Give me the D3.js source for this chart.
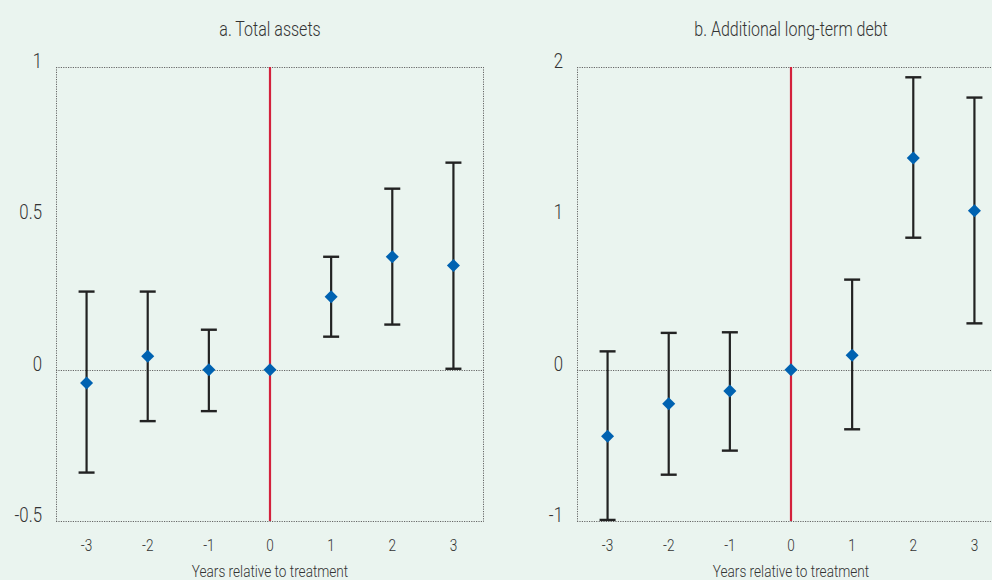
<!DOCTYPE html>
<html><head><meta charset="utf-8">
<script src="https://cdn.jsdelivr.net/npm/d3@7"></script>
<style>
html,body{margin:0;padding:0;background:#EAF4EF;}
svg{display:block;}
text{font-family:"Roboto","Open Sans",sans-serif;font-weight:300;fill:#333;}
</style></head>
<body>
<svg id="chart" width="992" height="580"></svg>
<script>
// ---- data ----
const years = [-3, -2, -1, 0, 1, 2, 3];
const xTickLabels = ["-3", "-2", "-1", "0", "1", "2", "3"];

const assetsEst   = [-0.044, 0.044, 0.000, 0.000, 0.241, 0.373, 0.344];
const assetsLow   = [-0.340, -0.170, -0.137, null, 0.109, 0.149, 0.003];
const assetsHigh  = [0.258, 0.258, 0.132, null, 0.373, 0.598, 0.684];
const assetsTicks = [-0.5, 0, 0.5, 1];
const assetsTickLabels = ["-0.5", "0", "0.5", "1"];

const debtEst   = [-0.440, -0.225, -0.141, 0.000, 0.095, 1.399, 1.050];
const debtLow   = [-0.993, -0.694, -0.535, null, -0.394, 0.872, 0.306];
const debtHigh  = [0.121, 0.243, 0.247, null, 0.595, 1.932, 1.798];
const debtTicks = [-1, 0, 1, 2];
const debtTickLabels = ["-1", "0", "1", "2"];

const panelTitles = ["a. Total assets", "b. Additional long-term debt"];
const xAxisTitle = "Years relative to treatment";

// ---- drawing ----
const svg = d3.select("#chart");
const plotTop = 67, plotBottom = 521;
const squeeze = 0.8; // condensed look

function label(g, x, y, txt, size, anchor) {
  return g.append("text")
    .attr("transform", `translate(${x},${y}) scale(${squeeze},1)`)
    .attr("text-anchor", anchor).attr("font-size", size).text(txt);
}

function panel(cfg) {
  const g = svg.append("g");
  const x = d3.scaleLinear().domain([-3.5, 3.5]).range([cfg.left, cfg.left + 428]);
  const y = d3.scaleLinear().domain(cfg.domain).range([plotBottom, plotTop]);
  const right = cfg.left + 428;

  const styleDot = sel => sel.attr("stroke", "#666").attr("stroke-width", 1)
      .attr("stroke-dasharray", "1.2,1.2").attr("fill", "none");

  // horizontal dotted lines: top, bottom, zero
  [cfg.domain[1], cfg.domain[0], 0].forEach(v => {
    g.append("line").attr("x1", cfg.left).attr("x2", right)
      .attr("y1", Math.round(y(v)) + 0.5).attr("y2", Math.round(y(v)) + 0.5)
      .call(styleDot);
  });
  // vertical dotted frame lines
  [cfg.left + 0.5, right - 0.5].forEach(xx => {
    g.append("line").attr("x1", xx).attr("x2", xx)
      .attr("y1", plotTop).attr("y2", plotBottom).call(styleDot);
  });

  // y tick labels
  cfg.ticks.forEach((d, i) => label(g, cfg.left - 14, y(d) + 1, cfg.tickLabels[i], 21, "end"));

  // x tick labels
  years.forEach((d, i) => label(g, x(d), 551, xTickLabels[i], 17, "middle"));

  // axis title
  label(g, x(0), 577, xAxisTitle, 17, "middle");

  // panel title
  label(g, x(0), 36, cfg.title, 20, "middle");

  // red reference line
  g.append("line").attr("x1", x(0)).attr("x2", x(0)).attr("y1", plotTop).attr("y2", plotBottom)
    .attr("stroke", "#D3213C").attr("stroke-width", 2.2);

  // error bars
  const eb = years.map((yr, i) => ({yr, lo: cfg.low[i], hi: cfg.high[i], est: cfg.est[i]}));
  const withCI = eb.filter(d => d.lo !== null);
  g.selectAll(".ebv").data(withCI).join("line")
    .attr("x1", d => x(d.yr)).attr("x2", d => x(d.yr))
    .attr("y1", d => y(d.lo)).attr("y2", d => y(d.hi))
    .attr("stroke", "#222").attr("stroke-width", 2.2);
  ["lo", "hi"].forEach(k => {
    g.selectAll(".cap" + k).data(withCI).join("line")
      .attr("x1", d => x(d.yr) - 8).attr("x2", d => x(d.yr) + 8)
      .attr("y1", d => y(d[k])).attr("y2", d => y(d[k]))
      .attr("stroke", "#222").attr("stroke-width", 2.4);
  });

  // diamonds
  const sym = d3.symbol().type(d3.symbolSquare).size(85);
  g.selectAll(".pt").data(eb).join("path")
    .attr("d", sym)
    .attr("transform", d => `translate(${x(d.yr)},${y(d.est)}) rotate(45)`)
    .attr("fill", "#0062B1");
}

panel({left: 56, domain: [-0.5, 1], ticks: assetsTicks, tickLabels: assetsTickLabels,
       est: assetsEst, low: assetsLow, high: assetsHigh, title: panelTitles[0]});
panel({left: 577, domain: [-1, 2], ticks: debtTicks, tickLabels: debtTickLabels,
       est: debtEst, low: debtLow, high: debtHigh, title: panelTitles[1]});
</script>
</body></html>
